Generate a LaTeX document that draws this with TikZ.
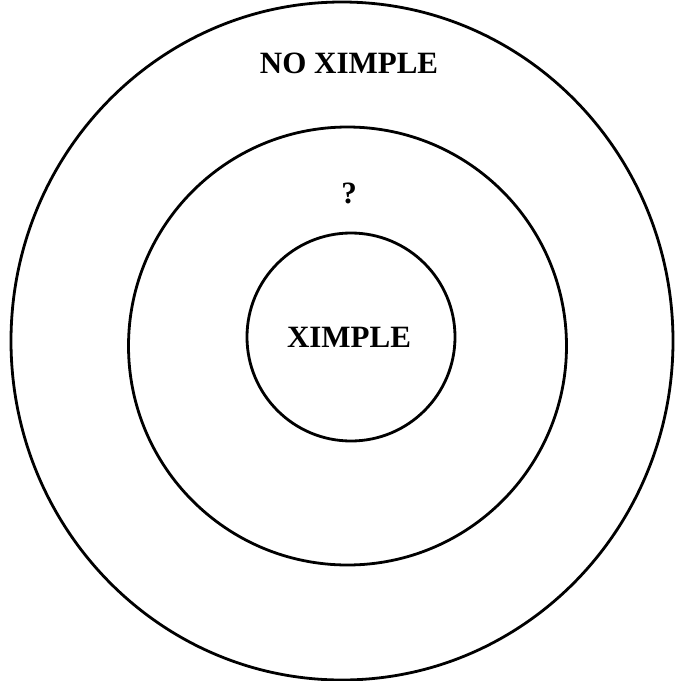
\documentclass[tikz,border=0pt]{standalone}
\usepackage{fontspec}
\setmainfont{Liberation Serif}
\begin{document}
\begin{tikzpicture}[x=1pt,y=-1pt,
  ring/.style={draw=black,line width=2.8pt},
  lbl/.style={font=\fontsize{31}{36}\selectfont\bfseries,inner sep=0pt}]
\useasboundingbox (0,0) rectangle (675,681);
\draw[ring] (342,341) ellipse [x radius=331, y radius=339];
\draw[ring] (347.5,346) circle [radius=219];
\draw[ring] (351,337) circle [radius=104];
\node[lbl] (outer) at (349,63) {NO XIMPLE};
\node[lbl] (mid) at (349,193) {?};
\node[lbl] (inner) at (349,337) {XIMPLE};
\end{tikzpicture}
\end{document}
